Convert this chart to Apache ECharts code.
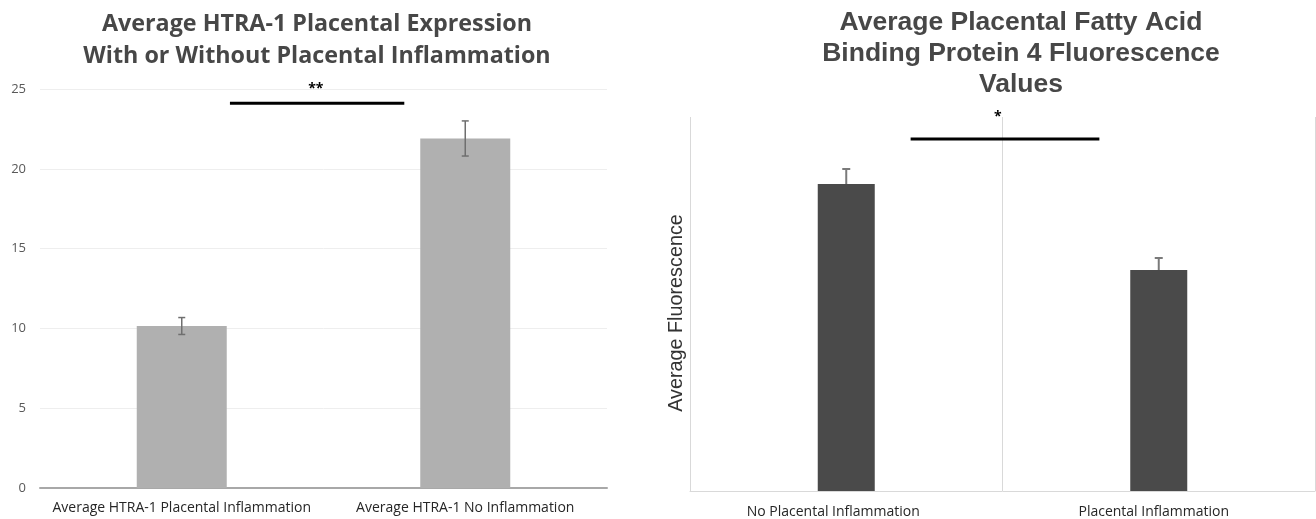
<!DOCTYPE html>
<html>
<head>
<meta charset="utf-8">
<script src="https://cdn.jsdelivr.net/npm/echarts@6/dist/echarts.min.js"></script>
<style>html,body{margin:0;padding:0;background:#fff}#c{width:1316px;height:519px}</style>
</head>
<body>
<div id="c"></div>
<script>
// Left chart data
const leftCategories = ['Average HTRA-1 Placental Inflammation', 'Average HTRA-1 No Inflammation'];
const leftValues = [10.15, 21.9];
const leftErrors = [0.53, 1.1];
const leftTicks = [0, 5, 10, 15, 20, 25];
const leftSignif = {label: '**', y: 24.1};

// Right chart data (arbitrary fluorescence units, no tick labels shown)
const rightCategories = ['No Placental Inflammation', 'Placental Inflammation'];
const rightValues = [82.1, 59.1];
const rightErrors = [4.0, 3.2];
const rightSignif = {label: '*', y: 94.1};

const chart = echarts.init(document.getElementById('c'));

function errData(vals, errs) {
  return vals.map((v, i) => [i, v - errs[i], v + errs[i]]);
}

function errRender(color, lw, cap) {
  return function (params, api) {
    const x = api.value(0);
    const lo = api.coord([x, api.value(1)]);
    const hi = api.coord([x, api.value(2)]);
    const st = {stroke: color, lineWidth: lw};
    return {type: 'group', children: [
      {type: 'line', shape: {x1: hi[0], y1: hi[1], x2: lo[0], y2: lo[1]}, style: st},
      {type: 'line', shape: {x1: hi[0] - cap, y1: hi[1], x2: hi[0] + cap, y2: hi[1]}, style: st},
      {type: 'line', shape: {x1: lo[0] - cap, y1: lo[1], x2: lo[0] + cap, y2: lo[1]}, style: st}
    ]};
  };
}

// significance bar: spans fractions of band from category 0 centre
function sigRender(label, f0, f1, fText, textVal) {
  return function (params, api) {
    const y = api.value(1);
    const c0 = api.coord([0, y]);
    const band = api.size([1, 0])[0];
    const ty = api.coord([0, textVal])[1];
    return {type: 'group', children: [
      {type: 'line', shape: {x1: c0[0] + f0 * band, y1: c0[1], x2: c0[0] + f1 * band, y2: c0[1]},
       style: {stroke: '#000', lineWidth: 3}},
      {type: 'text', x: c0[0] + fText * band, y: ty,
       style: {text: label, fill: '#000', font: 'bold 14px "Open Sans"', align: 'center', verticalAlign: 'middle'}}
    ]};
  };
}

// label nudges (right padding shifts centred label left by half)
const rightLabelPad = [26, 10];

chart.setOption({
  animation: false,
  title: [
    {text: 'Average HTRA-1 Placental Expression\nWith or Without Placental Inflammation', left: 312, top: 3, textAlign: 'center',
     textStyle: {fontFamily: 'Open Sans', fontWeight: 'bold', fontSize: 23.3, color: '#474747', lineHeight: 32}},
    {text: 'Average Placental Fatty Acid\nBinding Protein 4 Fluorescence\nValues', left: 1016, top: 2, textAlign: 'center',
     textStyle: {fontFamily: 'Liberation Sans', fontWeight: 'bold', fontSize: 26.5, color: '#474747', lineHeight: 31}}
  ],
  grid: [
    {left: 40, right: 709, top: 89, bottom: 31},
    {left: 690, right: 1, top: 117, bottom: 28}
  ],
  xAxis: [
    {type: 'category', gridIndex: 0, data: leftCategories,
     axisLine: {lineStyle: {color: '#a8a8a8', width: 2}}, axisTick: {show: false},
     axisLabel: {interval: 0, fontFamily: 'Open Sans', fontSize: 14, color: '#262626', margin: 13}},
    {type: 'category', gridIndex: 1,
     data: rightCategories.map((c, i) => ({value: c, textStyle: {padding: [0, rightLabelPad[i], 0, 0]}})),
     axisLine: {lineStyle: {color: '#d9d9d9', width: 1}}, axisTick: {show: false},
     splitLine: {show: true, lineStyle: {color: '#d9d9d9', width: 1}},
     axisLabel: {interval: 0, fontFamily: 'Open Sans', fontSize: 14, color: '#262626', margin: 14}}
  ],
  yAxis: [
    {type: 'value', gridIndex: 0, min: 0, max: 25, interval: 5,
     axisLine: {show: false}, axisTick: {show: false},
     splitLine: {lineStyle: {color: '#eeeeee'}},
     axisLabel: {fontFamily: 'Open Sans', fontSize: 13, color: '#595959', margin: 14}},
    {type: 'value', gridIndex: 1, min: 0, max: 100,
     axisLine: {show: false}, axisTick: {show: false}, splitLine: {show: false}, axisLabel: {show: false},
     name: 'Average Fluorescence', nameLocation: 'middle', nameGap: 3, nameRotate: 90,
     nameTextStyle: {fontFamily: 'Liberation Sans', fontSize: 19.8, color: '#333333', padding: [0, 18, 0, 0]}}
  ],
  series: [
    {type: 'bar', xAxisIndex: 0, yAxisIndex: 0, data: leftValues, barWidth: 90,
     itemStyle: {color: '#b0b0b0'}},
    {type: 'custom', xAxisIndex: 0, yAxisIndex: 0, data: errData(leftValues, leftErrors),
     renderItem: errRender('#6f6f6f', 1.5, 3.5), z: 5},
    {type: 'custom', xAxisIndex: 0, yAxisIndex: 0, data: [[0, leftSignif.y]],
     renderItem: sigRender(leftSignif.label, 0.17, 0.785, 0.473, 25.0), z: 5},
    {type: 'bar', xAxisIndex: 1, yAxisIndex: 1, data: rightValues, barWidth: 57,
     itemStyle: {color: '#4a4a4a'}, z: 3},
    {type: 'custom', xAxisIndex: 1, yAxisIndex: 1, data: errData(rightValues, rightErrors),
     renderItem: errRender('#7a7a7a', 2, 4), z: 2},
    {type: 'custom', xAxisIndex: 1, yAxisIndex: 1, data: [[0, rightSignif.y]],
     renderItem: sigRender(rightSignif.label, 0.206, 0.81, 0.485, 100), z: 5}
  ]
});
</script>
</body>
</html>
